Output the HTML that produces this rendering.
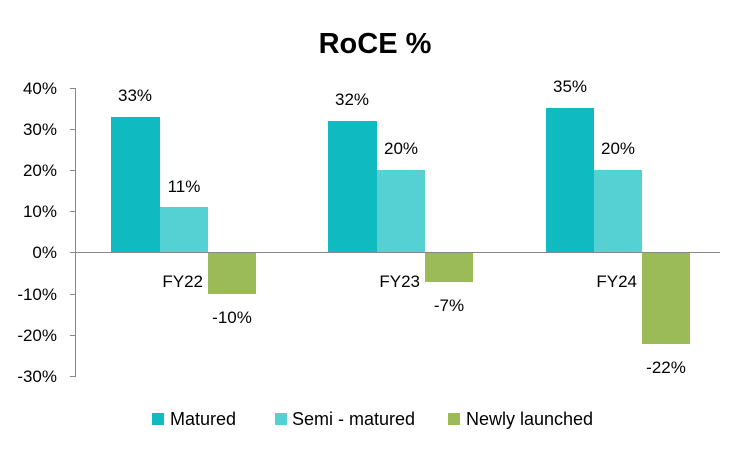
<!DOCTYPE html>
<html><head><style>body{margin:0;background:#fff}svg{display:block}</style></head><body>
<svg width="750" height="450" xmlns="http://www.w3.org/2000/svg" font-family="Liberation Sans, sans-serif" fill="#000">
<text x="375" y="53" font-size="29" font-weight="bold" text-anchor="middle">RoCE %</text>
<g stroke="#888" stroke-width="1">
<line x1="75.5" y1="88" x2="75.5" y2="377"/>
<line x1="70" y1="88.5" x2="75" y2="88.5"/><line x1="70" y1="129.5" x2="75" y2="129.5"/><line x1="70" y1="170.5" x2="75" y2="170.5"/><line x1="70" y1="211.5" x2="75" y2="211.5"/><line x1="70" y1="252.5" x2="75" y2="252.5"/><line x1="70" y1="294.5" x2="75" y2="294.5"/><line x1="70" y1="335.5" x2="75" y2="335.5"/><line x1="70" y1="376.5" x2="75" y2="376.5"/>
</g>
<g font-size="17" text-anchor="end">
<text x="57" y="94">40%</text><text x="57" y="135">30%</text><text x="57" y="176">20%</text><text x="57" y="217">10%</text><text x="57" y="258">0%</text><text x="57" y="300">-10%</text><text x="57" y="341">-20%</text><text x="57" y="382">-30%</text>
</g>
<rect x="111" y="117" width="49" height="136" fill="#0FBBC0"/>
<rect x="160" y="207" width="48" height="46" fill="#55D0D3"/>
<rect x="208" y="253" width="48" height="41" fill="#9BBB59"/>
<rect x="328" y="121" width="49" height="132" fill="#0FBBC0"/>
<rect x="377" y="170" width="48" height="83" fill="#55D0D3"/>
<rect x="425" y="253" width="48" height="29" fill="#9BBB59"/>
<rect x="546" y="108" width="48" height="145" fill="#0FBBC0"/>
<rect x="594" y="170" width="48" height="83" fill="#55D0D3"/>
<rect x="642" y="253" width="48" height="91" fill="#9BBB59"/>
<line x1="75" y1="252.5" x2="720" y2="252.5" stroke="#888" stroke-width="1"/>
<g font-size="17" text-anchor="middle">
<text x="135" y="101">33%</text><text x="184" y="192">11%</text><text x="232" y="323">-10%</text>
<text x="352" y="105">32%</text><text x="401" y="154">20%</text><text x="449" y="311">-7%</text>
<text x="570" y="92">35%</text><text x="618" y="154">20%</text><text x="666" y="373">-22%</text>
</g>
<g font-size="17" text-anchor="end">
<text x="203" y="287">FY22</text><text x="420" y="287">FY23</text><text x="637" y="287">FY24</text>
</g>
<rect x="152" y="413" width="12" height="12" fill="#0FBBC0"/>
<rect x="275" y="413" width="12" height="12" fill="#55D0D3"/>
<rect x="448" y="413" width="12" height="12" fill="#9BBB59"/>
<g font-size="18">
<text x="170" y="425">Matured</text><text x="292" y="425">Semi - matured</text><text x="466" y="425">Newly launched</text>
</g>
</svg>
</body></html>
